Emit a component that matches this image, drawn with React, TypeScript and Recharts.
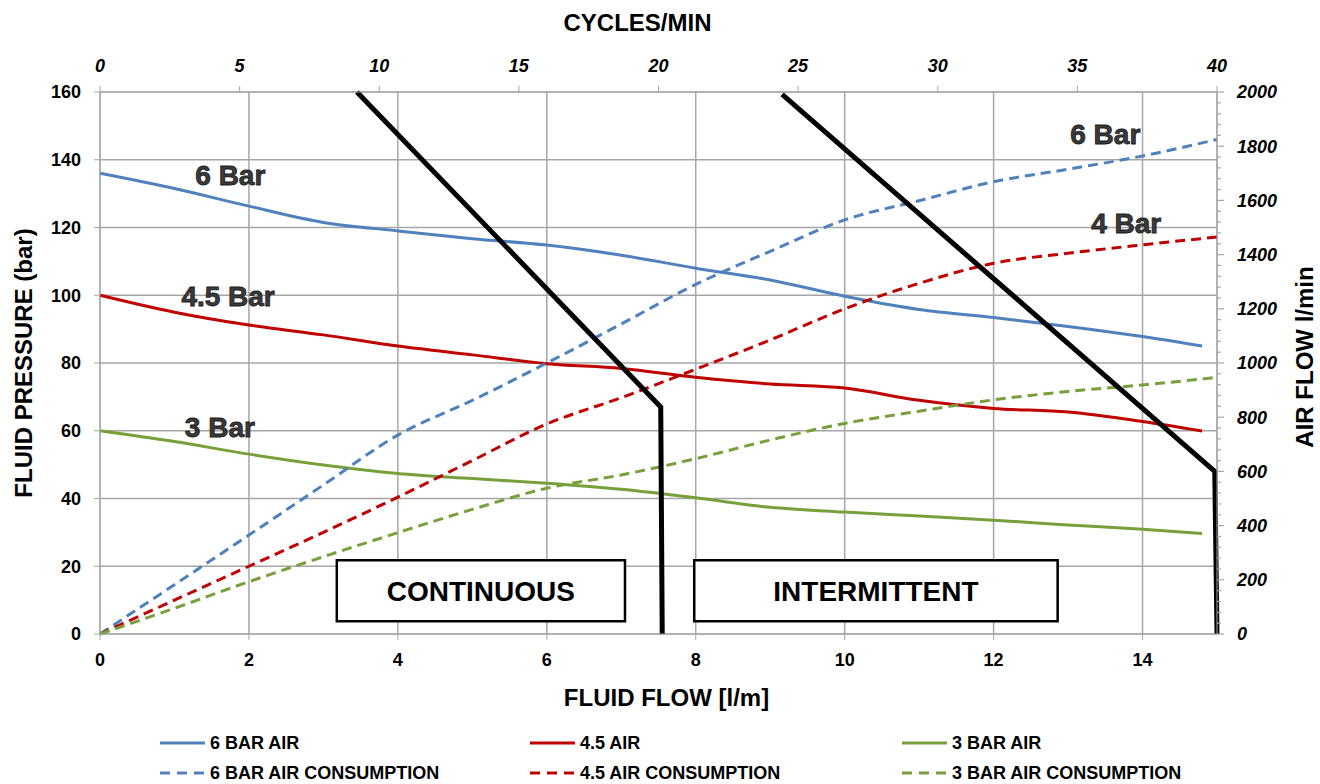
import React from 'react';
import {
  LineChart, Line, XAxis, YAxis, CartesianGrid, Legend, ReferenceArea, ReferenceDot,
} from 'recharts';

/* fluid flow (l/m) sample points */
const flowX = [0, 1, 2, 3, 4, 5, 6, 7, 8, 9, 10, 11, 12, 13, 14, 14.8];
const pressure6 = [136, 131.5, 126.3, 121.5, 119, 116.7, 114.8, 111.8, 108, 104.5, 99.7, 95.8, 93.4, 90.8, 87.8, 85];
const pressure45 = [100, 95, 91.2, 88.3, 85, 82.4, 79.8, 78.4, 75.8, 73.8, 72.6, 69, 66.6, 65.5, 62.7, 59.9];
const pressure3 = [60, 56.8, 53.1, 49.9, 47.4, 45.9, 44.5, 42.7, 40.2, 37.4, 36, 34.8, 33.6, 32.2, 30.9, 29.7];

/* air consumption (l/min), right axis */
const airX = [0, 1, 2, 3, 4, 5, 6, 7, 8, 9, 10, 11, 12, 13, 14, 15];
const air6 = [0, 182, 365, 550, 734, 862, 1000, 1144, 1290, 1412, 1528, 1599, 1669, 1715, 1764, 1825];
const air45 = [0, 125, 250, 375, 505, 640, 775, 872, 977, 1085, 1200, 1294, 1368, 1405, 1436, 1465];
const air3 = [0, 95, 193, 285, 374, 460, 538, 587, 647, 716, 777, 822, 864, 895, 919, 947];

/* operating limits */
const continuousX = [3.45, 7.53, 7.55];
const continuousY = [160, 67, 0];
const intermittentX = [9.16, 14.97, 15];
const intermittentY = [159.3, 48, 0];

const flowTicks = [0, 2, 4, 6, 8, 10, 12, 14];
const cycleTicks = [0, 5, 10, 15, 20, 25, 30, 35, 40];
const pressureTicks = [0, 20, 40, 60, 80, 100, 120, 140, 160];
const airTicks = Array.from({ length: 51 }, (_, i) => i * 40);

const BLUE = '#4f81bd';
const RED = '#c00000';
const GREEN = '#77a03a';
const GRID = '#a6a6a6';

const pts = (xs: number[], ys: number[]) => xs.map((x, i) => ({ x, y: ys[i] }));

const series = [
  { name: '6 BAR AIR', data: pts(flowX, pressure6), color: BLUE, dashed: false, axis: 'left' },
  { name: '4.5 AIR', data: pts(flowX, pressure45), color: RED, dashed: false, axis: 'left' },
  { name: '3 BAR AIR', data: pts(flowX, pressure3), color: GREEN, dashed: false, axis: 'left' },
  { name: '6 BAR AIR CONSUMPTION', data: pts(airX, air6), color: BLUE, dashed: true, axis: 'right' },
  { name: '4.5 AIR CONSUMPTION', data: pts(airX, air45), color: RED, dashed: true, axis: 'right' },
  { name: '3 BAR AIR CONSUMPTION', data: pts(airX, air3), color: GREEN, dashed: true, axis: 'right' },
];

const tags = [
  { text: '6 Bar', x: 1.75, y: 135.5 },
  { text: '4.5 Bar', x: 1.72, y: 99.8 },
  { text: '3 Bar', x: 1.61, y: 61 },
  { text: '6 Bar', x: 13.5, y: 147.7 },
  { text: '4 Bar', x: 13.78, y: 121.2 },
];

const legendCols = [160, 530, 902];

function AxisTitle({ viewBox, text, dx = 0, dy = 0, rotate = false }: any) {
  const cx = viewBox.x + viewBox.width / 2 + dx;
  const cy = viewBox.y + viewBox.height / 2 + dy;
  return (
    <text
      x={cx} y={cy} textAnchor="middle" dominantBaseline="central"
      transform={rotate ? `rotate(-90 ${cx} ${cy})` : undefined}
      fontSize={24} fontWeight={700} fill="#000"
    >
      {text}
    </text>
  );
}

/* right axis: minor ticks every 40, labels every 200 */
function AirTick({ x, y, payload }: any) {
  const major = payload.value % 200 === 0;
  return (
    <g>
      <line x1={x} x2={x + (major ? 7 : 4)} y1={y} y2={y} stroke={GRID} strokeWidth={1.2} />
      {major && (
        <text x={x + 20} y={y} dy="0.35em" fontSize={18} fontWeight={700} fontStyle="italic" fill="#000">
          {payload.value}
        </text>
      )}
    </g>
  );
}

function ChartLegend() {
  return (
    <div style={{ position: 'relative', width: 1320, height: 70 }}>
      {series.map((s, i) => (
        <div
          key={s.name}
          style={{
            position: 'absolute', left: legendCols[i % 3], top: 14 + Math.floor(i / 3) * 30,
            height: 30, display: 'flex', alignItems: 'center', whiteSpace: 'nowrap',
          }}
        >
          <svg width={50} height={10}>
            <line x1={0} x2={45} y1={5} y2={5} stroke={s.color} strokeWidth={3}
              strokeDasharray={s.dashed ? '10 7' : undefined} />
          </svg>
          <span style={{ fontSize: 18, fontWeight: 700, color: '#000' }}>{s.name}</span>
        </div>
      ))}
    </div>
  );
}

export default function App() {
  return (
    <div style={{
      position: 'absolute', left: 0, top: 0, width: 1320, height: 784, background: '#fff',
      fontFamily: '"Liberation Sans", Arial, sans-serif',
    }}>
      <LineChart width={1320} height={784} margin={{ top: 0, right: 0, bottom: 0, left: 0 }}>
        <CartesianGrid xAxisId="bottom" yAxisId="left" stroke={GRID} strokeWidth={1.5} />
        <XAxis
          xAxisId="bottom" dataKey="x" type="number" domain={[0, 15]} ticks={flowTicks} interval={0}
          height={80} stroke={GRID} tickSize={6} tickMargin={13}
          tick={{ fontSize: 18, fontWeight: 700, fill: '#000' }}
          label={<AxisTitle text="FLUID FLOW [l/m]" dx={8} dy={23} />}
        />
        <XAxis
          xAxisId="top" orientation="top" dataKey="x" type="number" domain={[0, 40]} allowDataOverflow
          ticks={cycleTicks} interval={0}
          height={92} stroke={GRID} tickSize={6} tickMargin={14}
          tick={{ fontSize: 18, fontWeight: 700, fontStyle: 'italic', fill: '#000' }}
          label={<AxisTitle text="CYCLES/MIN" dx={-21} dy={-24} />}
        />
        <YAxis
          yAxisId="left" type="number" domain={[0, 160]} ticks={pressureTicks} interval={0}
          width={100} stroke={GRID} tickSize={6} tickMargin={13}
          tick={{ fontSize: 18, fontWeight: 700, fill: '#000' }}
          label={<AxisTitle text="FLUID PRESSURE (bar)" dx={-27} rotate />}
        />
        <YAxis
          yAxisId="right" orientation="right" type="number" domain={[0, 2000]} ticks={airTicks} interval={0}
          width={103} stroke={GRID} tickLine={false} tickSize={0} tickMargin={0}
          tick={<AirTick />}
          label={<AxisTitle text="AIR FLOW l/min" dx={36} dy={-6} rotate />}
        />

        <ReferenceArea xAxisId="bottom" yAxisId="left" x1={3.18} x2={7.05} y1={3.8} y2={21.8}
          fill="#fff" fillOpacity={1} stroke="#000" strokeWidth={2.5}
          label={{ value: 'CONTINUOUS', position: 'center', fontSize: 28, fontWeight: 700, fill: '#000' }} />
        <ReferenceArea xAxisId="bottom" yAxisId="left" x1={7.98} x2={12.86} y1={3.8} y2={21.8}
          fill="#fff" fillOpacity={1} stroke="#000" strokeWidth={2.5}
          label={{ value: 'INTERMITTENT', position: 'center', fontSize: 28, fontWeight: 700, fill: '#000' }} />

        {series.map((s) => (
          <Line
            key={s.name} data={s.data} dataKey="y" name={s.name} xAxisId="bottom" yAxisId={s.axis}
            type="monotone" stroke={s.color} strokeWidth={3} dot={false} activeDot={false}
            strokeDasharray={s.dashed ? '10 6' : undefined} isAnimationActive={false}
          />
        ))}
        <Line data={pts(continuousX, continuousY)} dataKey="y" xAxisId="bottom" yAxisId="left"
          type="linear" stroke="#000" strokeWidth={5} dot={false} activeDot={false} isAnimationActive={false} legendType="none" />
        <Line data={pts(intermittentX, intermittentY)} dataKey="y" xAxisId="bottom" yAxisId="left"
          type="linear" stroke="#000" strokeWidth={5} dot={false} activeDot={false} isAnimationActive={false} legendType="none" />

        {tags.map((t, i) => (
          <ReferenceDot key={i} xAxisId="bottom" yAxisId="left" x={t.x} y={t.y} r={0} stroke="none"
            label={{
              value: t.text, position: 'center', fontSize: 28, fontWeight: 700,
              fill: '#3a3a3a', stroke: '#1a1a1a', strokeWidth: 0.8,
            }} />
        ))}

        <Legend verticalAlign="bottom" content={<ChartLegend />} />
      </LineChart>
    </div>
  );
}
